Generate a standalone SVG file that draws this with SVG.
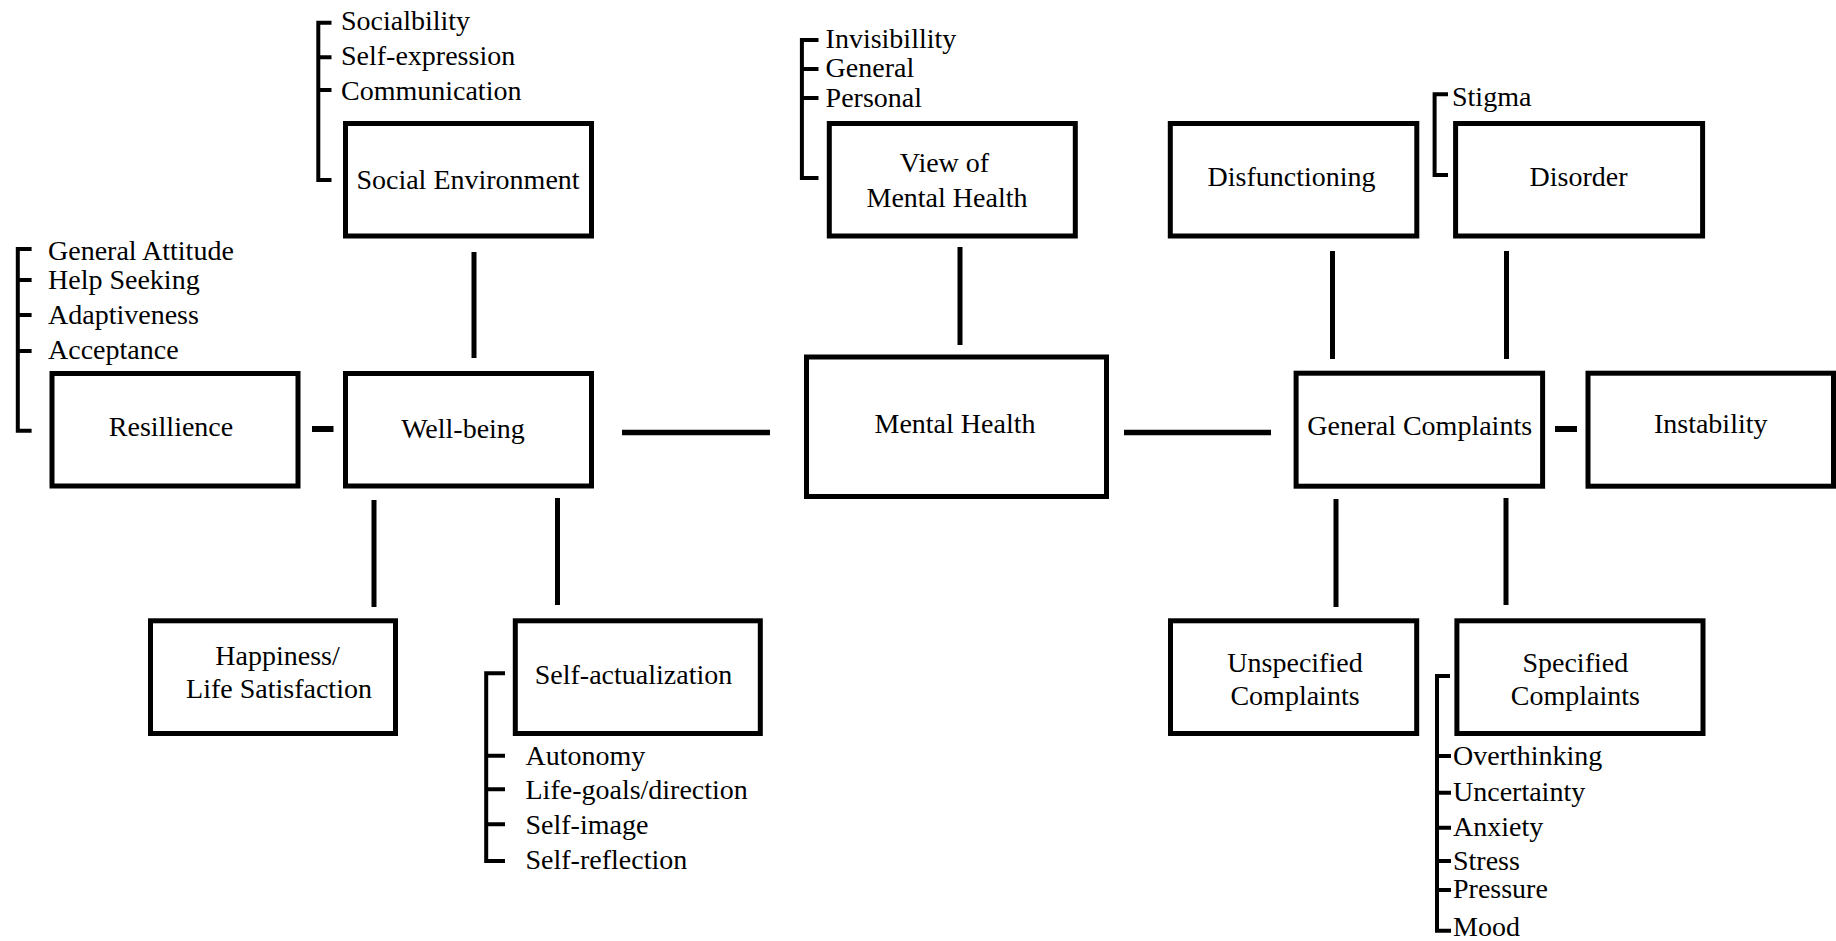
<svg xmlns="http://www.w3.org/2000/svg" width="1836" height="941" viewBox="0 0 1836 941">
<style>
.box{fill:#fff;stroke:#000;stroke-width:5}
text{font-family:'Liberation Serif','Times New Roman',Times,serif;font-size:28px;fill:#000}
.c{text-anchor:middle}
.ln{stroke:#000;stroke-width:5;fill:none}
.dash{stroke:#000;stroke-width:6;fill:none}
.br{stroke:#000;stroke-width:4;fill:none}
</style>
<rect width="1836" height="941" fill="#fff"/>
<g id="connectors">
<line class="ln" x1="474" y1="252" x2="474" y2="358"/>
<line class="ln" x1="960" y1="247" x2="960" y2="345"/>
<line class="ln" x1="1332.5" y1="251" x2="1332.5" y2="359"/>
<line class="ln" x1="1506.5" y1="251" x2="1506.5" y2="359"/>
<line class="ln" x1="374" y1="500" x2="374" y2="607"/>
<line class="ln" x1="557.5" y1="498" x2="557.5" y2="605"/>
<line class="ln" x1="1336" y1="499" x2="1336" y2="607"/>
<line class="ln" x1="1506" y1="498" x2="1506" y2="605"/>
<line class="ln" x1="622" y1="432.5" x2="770" y2="432.5" style="stroke-width:5.5"/>
<line class="ln" x1="1124" y1="432.5" x2="1271" y2="432.5" style="stroke-width:5.5"/>
<line class="dash" x1="312" y1="429" x2="333.5" y2="429"/>
<line class="dash" x1="1555" y1="429" x2="1577" y2="429"/>
</g>
<g id="social-environment">
<rect class="box" x="345.5" y="123.5" width="246" height="112.5"/>
<text class="c" x="468" y="189">Social Environment</text>
<path class="br" d="M331.5,22.7H318.3V180H331.5M318.3,57.3H331.5M318.3,90H331.5"/>
<text x="341" y="30">Socialbility</text>
<text x="341" y="64.5">Self-expression</text>
<text x="341" y="99.5">Communication</text>
</g>
<g id="resillience">
<rect class="box" x="52" y="373.5" width="246" height="112.5"/>
<text class="c" x="171" y="436">Resillience</text>
<path class="br" d="M31.6,249H17.8V430.7H31.6M17.8,280H31.6M17.8,315H31.6M17.8,351H31.6"/>
<text x="48" y="260">General Attitude</text>
<text x="48" y="289">Help Seeking</text>
<text x="48" y="324">Adaptiveness</text>
<text x="48" y="359">Acceptance</text>
</g>
<g id="well-being">
<rect class="box" x="345.5" y="373.5" width="246" height="112.5"/>
<text class="c" x="463" y="438">Well-being</text>
</g>
<g id="happiness">
<rect class="box" x="150.5" y="620.8" width="245" height="112.7"/>
<text class="c" x="277.5" y="665">Happiness/</text>
<text class="c" x="279" y="698.3">Life Satisfaction</text>
</g>
<g id="self-actualization">
<rect class="box" x="515.3" y="620.8" width="245" height="112.7"/>
<text class="c" x="633.5" y="684">Self-actualization</text>
<path class="br" d="M505,673.3H486.2V861H505M486.2,755.7H505M486.2,789.3H505M486.2,824.3H505"/>
<text x="525.5" y="765">Autonomy</text>
<text x="525.5" y="799.3">Life-goals/direction</text>
<text x="525.5" y="834">Self-image</text>
<text x="525.5" y="869.3">Self-reflection</text>
</g>
<g id="view-of-mental-health">
<rect class="box" x="829.3" y="123.5" width="246" height="112.5"/>
<text class="c" x="944.5" y="172.3">View of</text>
<text class="c" x="947" y="206.7">Mental Health</text>
<path class="br" d="M818.5,40H801.9V178H818.5M801.9,69H818.5M801.9,98H818.5"/>
<text x="825.6" y="48.3">Invisibillity</text>
<text x="825.6" y="77.3">General</text>
<text x="825.6" y="106.7">Personal</text>
</g>
<g id="mental-health">
<rect class="box" x="806.5" y="357" width="300" height="139.5"/>
<text class="c" x="955" y="432.7">Mental Health</text>
</g>
<g id="disfunctioning">
<rect class="box" x="1170.3" y="123.5" width="246.5" height="112.5"/>
<text class="c" x="1291.5" y="185.7">Disfunctioning</text>
</g>
<g id="disorder">
<rect class="box" x="1455.6" y="123.5" width="247" height="112.5"/>
<text class="c" x="1578.5" y="185.7">Disorder</text>
<path class="br" d="M1448,94.3H1434.6V175H1448"/>
<text x="1452" y="106">Stigma</text>
</g>
<g id="general-complaints">
<rect class="box" x="1296.1" y="373.2" width="246.5" height="113"/>
<text class="c" x="1419.7" y="435">General Complaints</text>
</g>
<g id="instability">
<rect class="box" x="1588" y="373.2" width="245.5" height="113"/>
<text class="c" x="1710.7" y="433.3">Instability</text>
</g>
<g id="unspecified-complaints">
<rect class="box" x="1170.5" y="620.8" width="246.2" height="112.7"/>
<text class="c" x="1295" y="671.7">Unspecified</text>
<text class="c" x="1295" y="705">Complaints</text>
</g>
<g id="specified-complaints">
<rect class="box" x="1456.9" y="620.8" width="246.1" height="112.7"/>
<text class="c" x="1575.3" y="671.7">Specified</text>
<text class="c" x="1575.3" y="705">Complaints</text>
<path class="br" d="M1450,676H1437V930.7H1451M1437,756H1451M1437,792.7H1451M1437,827.7H1451M1437,861H1451M1437,890H1451"/>
<text x="1453" y="765">Overthinking</text>
<text x="1453" y="800.7">Uncertainty</text>
<text x="1453" y="836">Anxiety</text>
<text x="1453" y="870">Stress</text>
<text x="1453" y="898.3">Pressure</text>
<text x="1453" y="936">Mood</text>
</g>
</svg>
